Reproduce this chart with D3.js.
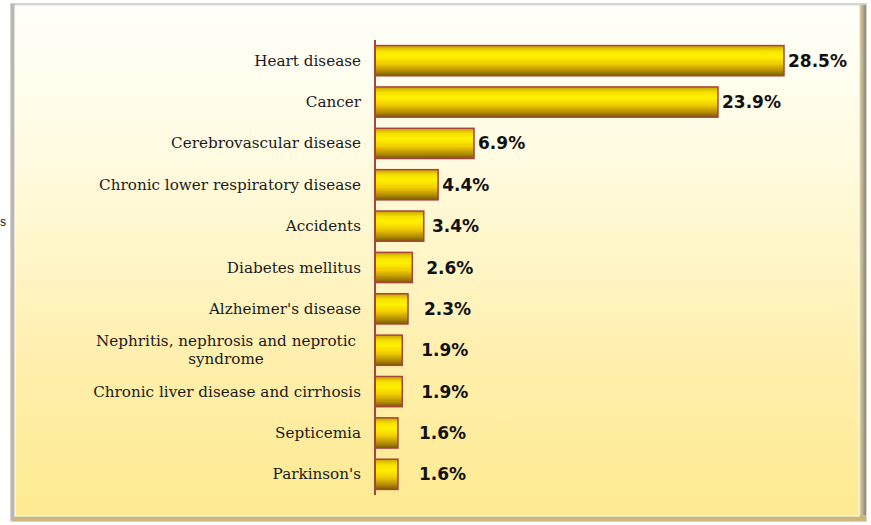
<!DOCTYPE html>
<html>
<head>
<meta charset="utf-8">
<script src="https://cdn.jsdelivr.net/npm/d3@7"></script>
<style>
  html, body { margin: 0; padding: 0; background: #ffffff; }
  svg { display: block; }
</style>
</head>
<body>
<svg id="chart" width="871" height="525"></svg>
<script>
// Leading causes of death, share of all deaths (%)
const causes = [
  "Heart disease",
  "Cancer",
  "Cerebrovascular disease",
  "Chronic lower respiratory disease",
  "Accidents",
  "Diabetes mellitus",
  "Alzheimer's disease",
  "Nephritis, nephrosis and neprotic\nsyndrome",
  "Chronic liver disease and cirrhosis",
  "Septicemia",
  "Parkinson's"
];
const shares = [28.5, 23.9, 6.9, 4.4, 3.4, 2.6, 2.3, 1.9, 1.9, 1.6, 1.6];
const valueLabels = ["28.5%", "23.9%", "6.9%", "4.4%", "3.4%", "2.6%", "2.3%", "1.9%", "1.9%", "1.6%", "1.6%"];

const svg = d3.select("#chart");
const defs = svg.append("defs");

// Panel background: pale cream fading to soft yellow
const bg = defs.append("linearGradient").attr("id", "panelGrad")
  .attr("x1", 0).attr("y1", 0).attr("x2", 0).attr("y2", 1);
bg.append("stop").attr("offset", "0%").attr("stop-color", "#fffffa");
bg.append("stop").attr("offset", "30%").attr("stop-color", "#fffbe0");
bg.append("stop").attr("offset", "70%").attr("stop-color", "#ffefac");
bg.append("stop").attr("offset", "100%").attr("stop-color", "#fdea90");

// Cylinder-like bar shading
const bar = defs.append("linearGradient").attr("id", "barGrad")
  .attr("x1", 0).attr("y1", 0).attr("x2", 0).attr("y2", 1);
bar.append("stop").attr("offset", "0%").attr("stop-color", "#c9a400");
bar.append("stop").attr("offset", "18%").attr("stop-color", "#f6e000");
bar.append("stop").attr("offset", "35%").attr("stop-color", "#fff200");
bar.append("stop").attr("offset", "60%").attr("stop-color", "#f0cc00");
bar.append("stop").attr("offset", "85%").attr("stop-color", "#b08a00");
bar.append("stop").attr("offset", "100%").attr("stop-color", "#7a5a00");

// Frame edge shading
const edgeR = defs.append("linearGradient").attr("id", "edgeR")
  .attr("x1", 0).attr("y1", 0).attr("x2", 1).attr("y2", 0);
edgeR.append("stop").attr("offset", "0%").attr("stop-color", "#e8dcaa");
edgeR.append("stop").attr("offset", "100%").attr("stop-color", "#8c8470");

// Frame: outer bevel then inner panel
svg.append("rect").attr("x", 10).attr("y", 3).attr("width", 857).attr("height", 519)
  .attr("fill", "#d6d4cc");
svg.append("rect").attr("x", 859).attr("y", 5).attr("width", 7).attr("height", 516)
  .attr("fill", "url(#edgeR)");
svg.append("rect").attr("x", 12).attr("y", 515).attr("width", 854).attr("height", 6)
  .attr("fill", "#c9b878");
svg.append("rect").attr("x", 11).attr("y", 4).attr("width", 4).attr("height", 516)
  .attr("fill", "#b9b7b0");
svg.append("rect").attr("x", 15).attr("y", 6).attr("width", 844).attr("height", 510)
  .attr("fill", "url(#panelGrad)");
svg.append("rect").attr("x", 15).attr("y", 6).attr("width", 844).attr("height", 510)
  .attr("fill", "none").attr("stroke", "#ffffff").attr("stroke-opacity", 0.7).attr("stroke-width", 1.5);

// Small glyph at the far left edge
svg.append("text").attr("x", 0).attr("y", 226)
  .attr("font-family", "DejaVu Serif").attr("font-size", 12).attr("fill", "#222")
  .text("s");

// Scales
const x = d3.scaleLinear().domain([0, 28.5]).range([375, 784]);
const y = d3.scaleBand().domain(d3.range(causes.length)).range([40, 495]).paddingInner(0.27).paddingOuter(0.135);

const rows = causes.map((c, i) => ({ name: c, value: shares[i], label: valueLabels[i], i }));

// Bars
svg.append("g").selectAll("rect").data(rows).join("rect")
  .attr("x", x(0))
  .attr("y", d => y(d.i))
  .attr("width", d => x(d.value) - x(0))
  .attr("height", y.bandwidth())
  .attr("fill", "url(#barGrad)")
  .attr("stroke", "#a8443c")
  .attr("stroke-width", 1.5);

// Category axis line
svg.append("line")
  .attr("x1", x(0)).attr("x2", x(0))
  .attr("y1", 40).attr("y2", 495)
  .attr("stroke", "#a8443c").attr("stroke-width", 2);

// Category labels (right-aligned; wrapped labels centred as a block)
const labelRight = 361;
const catG = svg.append("g")
  .attr("font-family", "'DejaVu Serif', serif")
  .attr("font-size", 15.2)
  .attr("fill", "#1a1a1a");
rows.forEach(d => {
  const lines = d.name.split("\n");
  const cy = y(d.i) + y.bandwidth() / 2;
  if (lines.length === 1) {
    catG.append("text").attr("x", labelRight).attr("y", cy + 5)
      .attr("text-anchor", "end").text(d.name);
  } else {
    const t = catG.append("text").attr("text-anchor", "middle");
    const lh = 18;
    lines.forEach((ln, k) => {
      t.append("tspan").attr("x", 0)
        .attr("y", cy + 5 + (k - (lines.length - 1) / 2) * lh).text(ln);
    });
    const w = t.node().getBBox().width;
    t.selectAll("tspan").attr("x", labelRight - 5 - w / 2);
  }
});

// Value labels
svg.append("g").selectAll("text").data(rows).join("text")
  .attr("x", d => Math.max(x(d.value) + 4, (x(d.value) + x(0) + 65) / 2))
  .attr("y", d => y(d.i) + y.bandwidth() / 2 + 6)
  .attr("font-family", "'DejaVu Sans', Verdana, sans-serif")
  .attr("font-weight", "bold")
  .attr("font-size", 17)
  .attr("fill", "#111")
  .text(d => d.label);
</script>
</body>
</html>
